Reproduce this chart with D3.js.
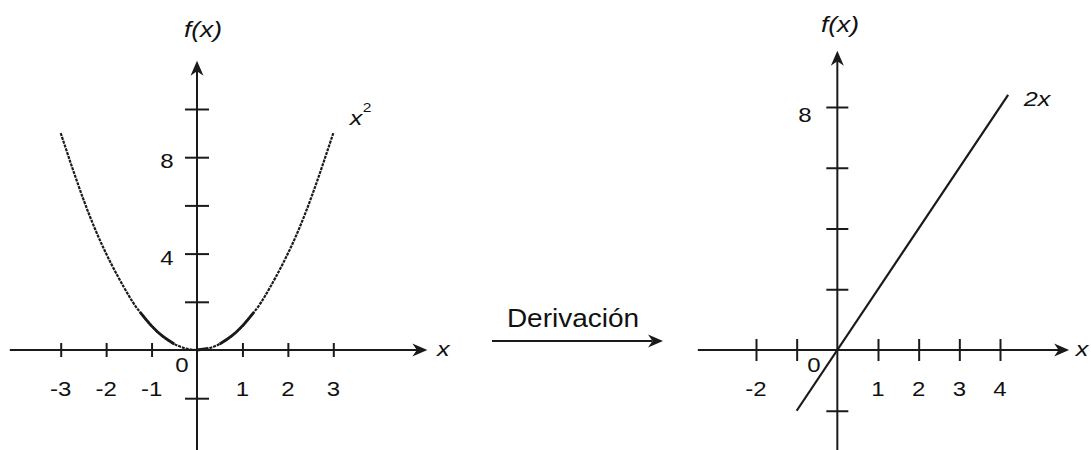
<!DOCTYPE html>
<html>
<head>
<meta charset="utf-8">
<script src="https://cdn.jsdelivr.net/npm/d3@7"></script>
<style>
  html, body { margin: 0; padding: 0; background: #fff; }
  svg { display: block; }
  text { font-family: "Liberation Sans", Arial, sans-serif; fill: #111; }
</style>
</head>
<body>
<svg id="chart" width="1091" height="450"></svg>
<script>
// f(x) = x^2, sampled points
const squareX = [-3, -2.5, -2, -1.5, -1.25, -1, -0.75, -0.5, -0.25, 0, 0.25, 0.5, 0.75, 1, 1.25, 1.5, 2, 2.5, 3];
const squareY = [9, 6.25, 4, 2.25, 1.5625, 1, 0.5625, 0.25, 0.0625, 0, 0.0625, 0.25, 0.5625, 1, 1.5625, 2.25, 4, 6.25, 9];

// f'(x) = 2x, end points of the segment
const lineX = [-1, 4.2];
const lineY = [-2, 8.4];

// tick values and labels
const leftXTicks = [-3, -2, -1, 1, 2, 3];
const leftXLabels = ["-3", "-2", "-1", "1", "2", "3"];
const leftYTicks = [-2, 2, 4, 6, 8, 10];
const leftYLabels = ["", "", "4", "", "8", ""];
const rightXTicks = [-2, -1, 1, 2, 3, 4];
const rightXLabels = ["-2", "", "1", "2", "3", "4"];
const rightYTicks = [-2, 2, 4, 6, 8];
const rightYLabels = ["", "", "", "", "8"];

const svg = d3.select("#chart");
const ink = "#1a1a1a";
const SX = 1.2; // horizontal stretch of glyphs

function label(g, x, y, txt, size, opts = {}) {
  return g.append("text")
    .attr("transform", `translate(${x},${y}) scale(${opts.sx || SX},1)`)
    .attr("text-anchor", opts.anchor || "middle")
    .attr("font-size", size)
    .attr("font-style", opts.italic ? "italic" : null)
    .text(txt);
}

// barbed arrow head with its tip at (x, y), pointing along angle (degrees)
function arrowHead(g, x, y, angle, len = 15, half = 6.5) {
  g.append("path")
    .attr("d", `M0,0 L${-len},${-half} L${-len * 0.7},0 L${-len},${half} Z`)
    .attr("transform", `translate(${x},${y}) rotate(${angle})`)
    .attr("fill", ink);
}

function drawAxes(g, x, y, cfg) {
  const [x0, x1] = cfg.xExtent, [y0, y1] = cfg.yExtent;
  // x axis line
  g.append("line")
    .attr("x1", x(x0)).attr("x2", x(x1) - 4)
    .attr("y1", y(0)).attr("y2", y(0))
    .attr("stroke", ink).attr("stroke-width", 2);
  arrowHead(g, x(x1), y(0), 0);
  // y axis line
  g.append("line")
    .attr("x1", x(0)).attr("x2", x(0))
    .attr("y1", y(y0)).attr("y2", y(y1) + 4)
    .attr("stroke", ink).attr("stroke-width", 2);
  arrowHead(g, x(0), y(y1), -90);

  // x ticks via d3 axis, centred on the axis line
  const ax = g.append("g")
    .attr("transform", `translate(0,${y(0)})`)
    .call(d3.axisBottom(x).tickValues(cfg.xTicks).tickFormat("").tickSizeOuter(0));
  ax.select(".domain").remove();
  ax.selectAll(".tick line")
    .attr("y1", -cfg.xTickHalf).attr("y2", cfg.xTickHalf)
    .attr("stroke", ink).attr("stroke-width", 2);

  // y ticks via d3 axis
  const ay = g.append("g")
    .attr("transform", `translate(${x(0)},0)`)
    .call(d3.axisLeft(y).tickValues(cfg.yTicks).tickFormat("").tickSizeOuter(0));
  ay.select(".domain").remove();
  ay.selectAll(".tick line")
    .attr("x1", -cfg.yTickHalf).attr("x2", cfg.yTickHalf)
    .attr("stroke", ink).attr("stroke-width", 2);

  // tick labels
  cfg.xTicks.forEach((v, i) => {
    if (cfg.xLabels[i]) label(g, x(v), cfg.xLabelY, cfg.xLabels[i], 20);
  });
  cfg.yTicks.forEach((v, i) => {
    if (cfg.yLabels[i]) label(g, cfg.yLabelX, y(v) + cfg.yLabelDy, cfg.yLabels[i], 20);
  });
  label(g, cfg.zeroX, cfg.zeroY, "0", 20);
  // axis titles
  label(g, cfg.fxX, cfg.fxY, "f(x)", 22, { italic: true });
  label(g, x(x1) + cfg.xTitleDx, y(0) + 6, "x", 21, { italic: true });
}

// ---------- left panel: x^2 ----------
const xL = d3.scaleLinear().domain([-3, 3]).range([60.7, 333.3]);
const yL = d3.scaleLinear().domain([0, 10]).range([350, 109]);
const gL = svg.append("g");

drawAxes(gL, xL, yL, {
  xExtent: [-4.12, 5.07], yExtent: [-4.2, 12.0],
  xTicks: leftXTicks, xLabels: leftXLabels,
  yTicks: leftYTicks, yLabels: leftYLabels,
  xTickHalf: 7, yTickHalf: 12,
  xLabelY: 396, yLabelX: 167, yLabelDy: 11,
  zeroX: 182, zeroY: 372,
  fxX: 203, fxY: 37, xTitleDx: 16
});

const pts = squareX.map((v, i) => [v, squareY[i]]);
const curve = d3.line().x(d => xL(d[0])).y(d => yL(d[1])).curve(d3.curveNatural);
gL.append("path")
  .attr("d", curve(pts))
  .attr("fill", "none").attr("stroke", ink)
  .attr("stroke-width", 2.2).attr("stroke-dasharray", "3,1");
// heavier stretches near the vertex
[[-1.25, -0.5], [0, 0.25], [0.5, 1.25]].forEach(([a, b]) => {
  const seg = pts.filter(d => d[0] >= a && d[0] <= b);
  gL.append("path")
    .attr("d", curve(seg))
    .attr("fill", "none").attr("stroke", ink).attr("stroke-width", 2.8);
});
label(gL, 356, 125, "x", 21, { italic: true });
label(gL, 367, 112, "2", 13);

// ---------- middle: derivation arrow ----------
const gM = svg.append("g");
label(gM, 573, 327, "Derivación", 25, { sx: 1.12 });
gM.append("line")
  .attr("x1", 492).attr("x2", 652).attr("y1", 341).attr("y2", 341)
  .attr("stroke", ink).attr("stroke-width", 2);
arrowHead(gM, 663, 341, 0, 15, 6.5);

// ---------- right panel: 2x ----------
const xR = d3.scaleLinear().domain([-2, 4]).range([756, 1000]);
const yR = d3.scaleLinear().domain([0, 8]).range([350, 107]);
const gR = svg.append("g");

drawAxes(gR, xR, yR, {
  xExtent: [-3.43, 5.7], yExtent: [-3.3, 9.85],
  xTicks: rightXTicks, xLabels: rightXLabels,
  yTicks: rightYTicks, yLabels: rightYLabels,
  xTickHalf: 11, yTickHalf: 11,
  xLabelY: 396, yLabelX: 805, yLabelDy: 15,
  zeroX: 814, zeroY: 372,
  fxX: 840, fxY: 32, xTitleDx: 13
});

const linePts = lineX.map((v, i) => [v, lineY[i]]);
gR.append("path")
  .attr("d", d3.line().x(d => xR(d[0])).y(d => yR(d[1]))(linePts))
  .attr("fill", "none").attr("stroke", ink).attr("stroke-width", 2.2);
label(gR, 1037, 106, "2x", 21, { italic: true });
</script>
</body>
</html>
